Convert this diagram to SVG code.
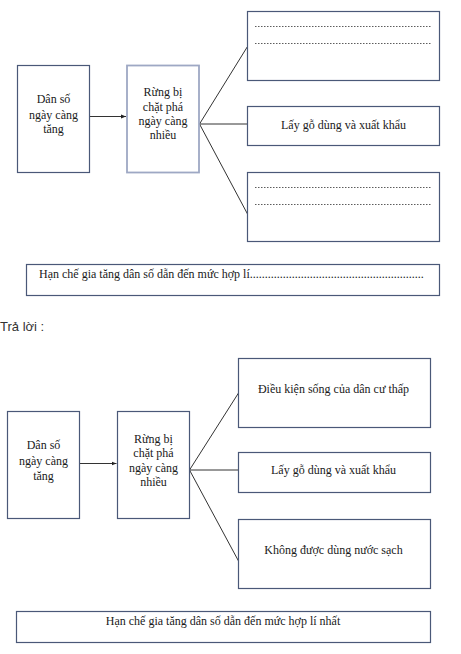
<svg xmlns="http://www.w3.org/2000/svg" width="461" height="654" viewBox="0 0 461 654">
<defs>
<style>
.box{fill:#fff;stroke:#4a5878;stroke-width:1.2}
.boxl{fill:#fff;stroke:#9ea8c4;stroke-width:1.8}
.t{font-family:"Liberation Serif","DejaVu Serif",serif;font-size:12px;fill:#1a1a1a;text-anchor:middle}
.tl{font-family:"Liberation Serif","DejaVu Serif",serif;font-size:12px;fill:#1a1a1a}
.dot{stroke:#333;stroke-width:0.8;stroke-dasharray:1.5,1.5}
.ln{stroke:#333;stroke-width:1;fill:none}
</style>
<marker id="ah" viewBox="0 0 10 10" refX="10" refY="5" markerWidth="5" markerHeight="5" orient="auto"><path d="M0,1 L10,5 L0,9 z" fill="#222"/></marker>
</defs>
<rect width="461" height="654" fill="#fff"/>

<g id="connectors">
<line class="ln" x1="89.5" y1="116.5" x2="126" y2="116.5" marker-end="url(#ah)"/>
<line class="ln" x1="199.5" y1="124" x2="247.5" y2="46.5"/>
<line class="ln" x1="199.5" y1="124" x2="247.5" y2="124"/>
<line class="ln" x1="199.5" y1="124" x2="247.5" y2="214"/>
<line class="ln" x1="79.5" y1="463.5" x2="116.5" y2="463.5" marker-end="url(#ah)"/>
<line class="ln" x1="189.5" y1="470" x2="238.5" y2="393"/>
<line class="ln" x1="189.5" y1="470" x2="238.5" y2="470"/>
<line class="ln" x1="189.5" y1="470" x2="238.5" y2="561"/>
</g>

<g id="top-a">
<rect class="box" x="17.5" y="65.5" width="72" height="107"/>
<text class="t" x="53.5" y="103">Dân số</text>
<text class="t" x="53.5" y="118.5">ngày càng</text>
<text class="t" x="53.5" y="133">tăng</text>
</g>
<g id="top-b">
<rect class="boxl" x="127" y="65.5" width="72" height="107"/>
<text class="t" x="163" y="96">Rừng bị</text>
<text class="t" x="163" y="110.5">chặt phá</text>
<text class="t" x="163" y="125">ngày càng</text>
<text class="t" x="163" y="139">nhiều</text>
</g>
<g id="top-c1">
<rect class="box" x="247.5" y="11.5" width="192" height="69"/>
<line class="dot" x1="255" y1="26.5" x2="432" y2="26.5"/>
<line class="dot" x1="255" y1="43.5" x2="432" y2="43.5"/>
</g>
<g id="top-c2">
<rect class="box" x="247.5" y="106.5" width="192" height="39"/>
<text class="t" x="343.5" y="128.5">Lấy gỗ dùng và xuất khẩu</text>
</g>
<g id="top-c3">
<rect class="box" x="247.5" y="172.5" width="192" height="69"/>
<line class="dot" x1="255" y1="187.5" x2="432" y2="187.5"/>
<line class="dot" x1="255" y1="204.5" x2="432" y2="204.5"/>
</g>
<g id="top-bottom">
<rect class="box" x="26.5" y="264.5" width="413" height="31"/>
<text class="tl" x="39" y="277.5">Hạn chế gia tăng dân số dẫn đến mức hợp lí..........................................................</text>
</g>

<text x="0" y="331" font-family="'Liberation Sans',Arial,sans-serif" font-size="13" fill="#333">Trả lời :</text>

<g id="ans-a">
<rect class="box" x="7.5" y="411.5" width="72" height="107"/>
<text class="t" x="43.5" y="449">Dân số</text>
<text class="t" x="43.5" y="465">ngày càng</text>
<text class="t" x="43.5" y="479.5">tăng</text>
</g>
<g id="ans-b">
<rect class="box" x="117.5" y="411.5" width="72" height="107"/>
<text class="t" x="153.5" y="442.5">Rừng bị</text>
<text class="t" x="153.5" y="457">chặt phá</text>
<text class="t" x="153.5" y="471.5">ngày càng</text>
<text class="t" x="153.5" y="485.5">nhiều</text>
</g>
<g id="ans-c1">
<rect class="box" x="238.5" y="358.5" width="192" height="69"/>
<text class="t" x="333.5" y="393">Điều kiện sống của dân cư thấp</text>
</g>
<g id="ans-c2">
<rect class="box" x="238.5" y="452.5" width="192" height="40"/>
<text class="t" x="333.5" y="473.5">Lấy gỗ dùng và xuất khẩu</text>
</g>
<g id="ans-c3">
<rect class="box" x="238.5" y="519.5" width="192" height="69"/>
<text class="t" x="333.5" y="554">Không được dùng nước sạch</text>
</g>
<g id="ans-bottom">
<rect class="box" x="16.5" y="611.5" width="414" height="31"/>
<text class="t" x="223" y="624.5">Hạn chế gia tăng dân số dẫn đến mức hợp lí nhất</text>
</g>
</svg>
